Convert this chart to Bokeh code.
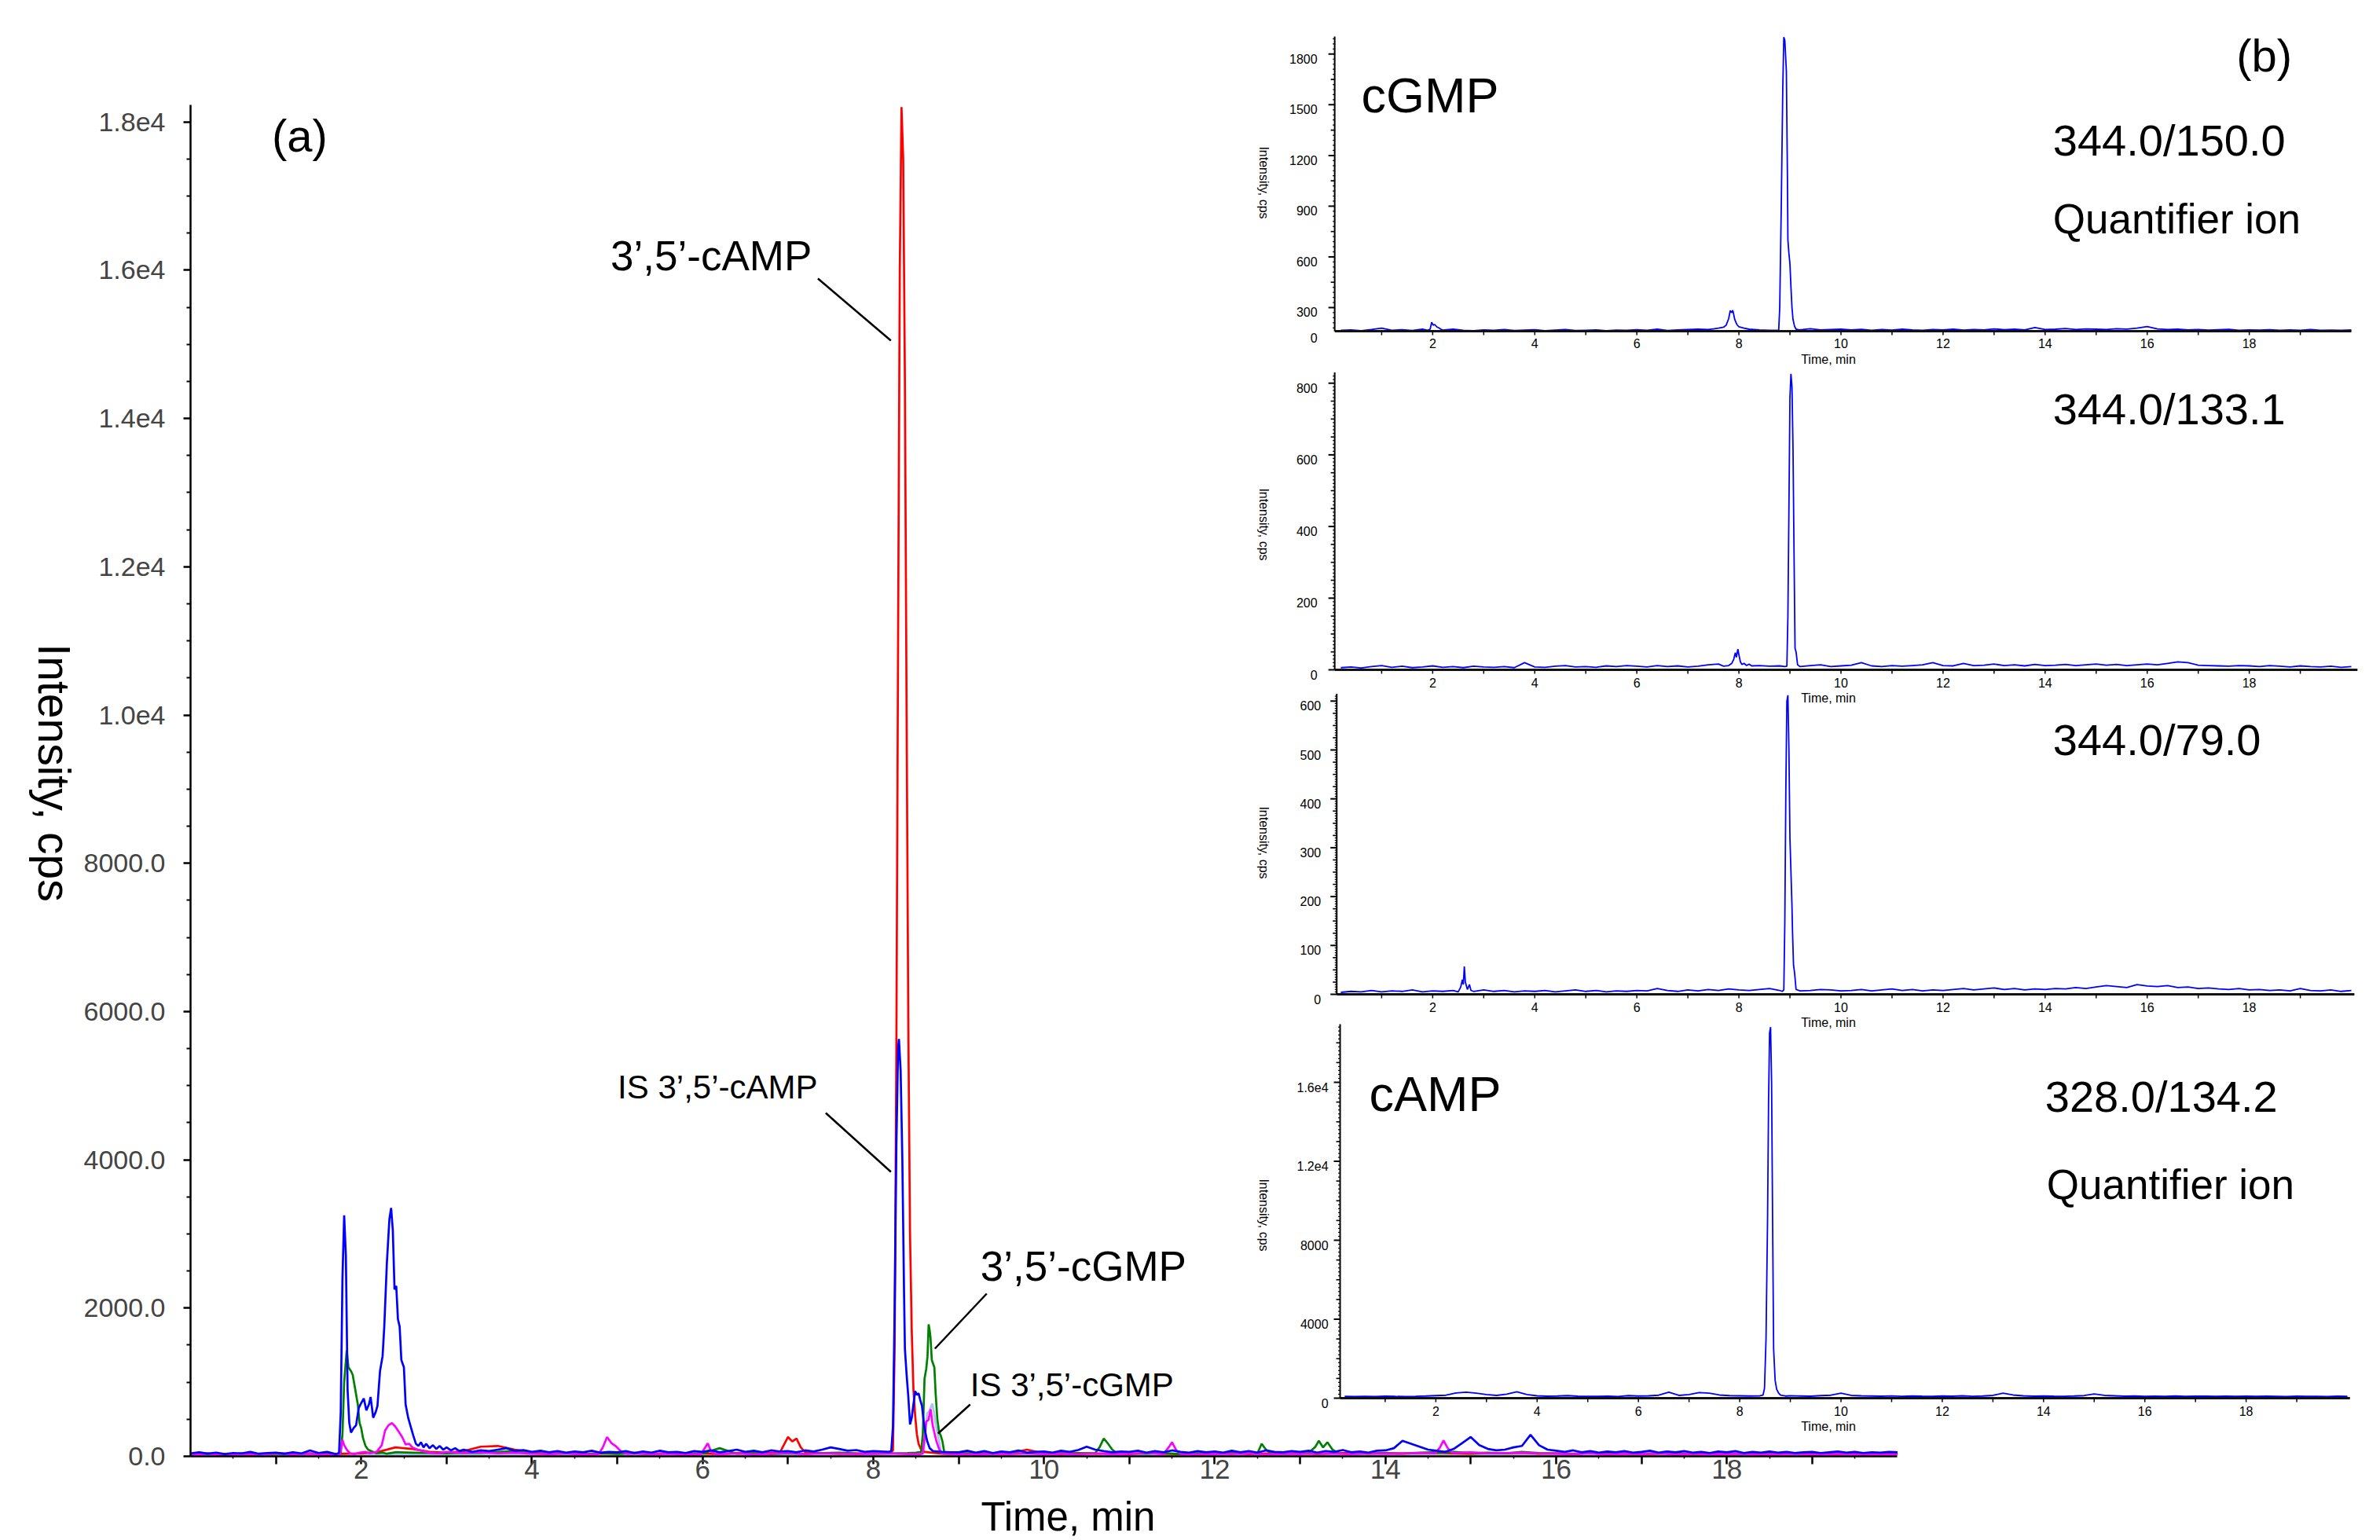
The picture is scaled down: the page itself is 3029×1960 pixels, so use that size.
import numpy as np
from bokeh.plotting import figure
from bokeh.layouts import row, column
from bokeh.models import Range1d, FixedTicker
from bokeh.core.properties import value
from bokeh.embed import file_html
from bokeh.resources import INLINE

FONT = "Liberation Sans"

# ===================== DATA =====================
# sampling grids (minutes)
grid_fine = [round(0.1 * i, 1) for i in range(201)]
grid_main = [round(0.2 * i, 1) for i in range(101)]
grid_inset = [round(0.2 * i, 1) for i in range(1, 101)]

# ---- panel (a): overlaid MRM traces, intensity in cps ----
blue_base = [40, 55, 35, 50, 30, 45, 40, 60, 35, 45,
             50, 35, 55, 40, 80, 45, 60, 40, 50, 45,
             60, 60, 60, 60, 60, 60, 60, 60, 60, 60,
             120, 90, 110, 80, 95, 70, 90, 110, 75, 85,
             60, 75, 55, 70, 50, 65, 55, 75, 50, 60,
             55, 70, 45, 65, 50, 75, 55, 60, 45, 70,
             60, 80, 55, 70, 90, 60, 75, 55, 80, 65,
             70, 55, 80, 65, 90, 120, 100, 75, 85, 60,
             70, 65, 60, 60, 60, 60, 60, 75, 60, 55,
             55, 75, 50, 70, 45, 65, 55, 80, 50, 60,
             65, 50, 75, 60, 85, 130, 90, 70, 55, 65,
             60, 75, 50, 70, 55, 80, 60, 50, 70, 55,
             65, 50, 75, 55, 70, 50, 80, 60, 55, 70,
             60, 75, 50, 70, 60, 85, 55, 65, 50, 75,
             80, 110, 210, 170, 130, 90, 75, 60, 100, 180,
             260, 150, 100, 80, 90, 120, 140, 290, 150, 90,
             75, 60, 80, 55, 70, 50, 65, 55, 70, 50,
             60, 75, 50, 65, 55, 70, 50, 60, 45, 65,
             55, 70, 45, 60, 50, 65, 50, 60, 45, 55,
             60, 45, 55, 65, 50, 60, 45, 55, 50, 60,
             55]
blue_seg_early = [(1.70, 30), (1.74, 45), (1.76, 600), (1.78, 2400), (1.80, 3250), (1.82, 2700),
                  (1.84, 900), (1.86, 450), (1.88, 320), (1.91, 380), (1.94, 420), (1.97, 650),
                  (2.00, 720), (2.03, 780), (2.06, 620), (2.09, 700), (2.11, 800), (2.14, 520),
                  (2.17, 600), (2.19, 680), (2.22, 1150), (2.25, 1350), (2.27, 1750), (2.30, 2600),
                  (2.33, 3200), (2.35, 3350), (2.37, 3050), (2.39, 2250), (2.41, 2300), (2.43, 1850),
                  (2.45, 1750), (2.47, 1300), (2.50, 1200), (2.52, 700), (2.55, 520), (2.58, 400),
                  (2.61, 280), (2.64, 170), (2.67, 140), (2.70, 190), (2.73, 120), (2.76, 170),
                  (2.80, 110), (2.84, 150), (2.88, 100), (2.92, 140), (2.96, 90), (3.00, 120),
                  (3.05, 80), (3.10, 110), (3.15, 70), (3.20, 90), (3.30, 60), (3.40, 80)]
blue_seg_peak = [(8.18, 60), (8.21, 70), (8.23, 400), (8.25, 2000), (8.27, 4200), (8.29, 5500),
                 (8.30, 5630), (8.32, 5200), (8.34, 4000), (8.36, 2200), (8.37, 1450), (8.39, 1100),
                 (8.41, 800), (8.43, 430), (8.45, 520), (8.47, 700), (8.49, 880), (8.51, 830),
                 (8.53, 850), (8.55, 760), (8.57, 680), (8.59, 470), (8.61, 320), (8.63, 210),
                 (8.66, 110), (8.70, 70)]

red_base = [30, 40, 25, 35, 30, 45, 30, 40, 25, 35,
            40, 60, 120, 100, 60, 50, 70, 130, 140, 90,
            50, 35, 45, 30, 40, 35, 50, 30, 45, 35,
            40, 30, 45, 35, 50, 230, 100, 45, 35, 40,
            40, 35, 40, 40, 35, 30, 45, 35, 40, 90,
            40, 30, 45, 35, 40, 30, 45, 35, 30, 40,
            35, 45, 30, 40, 35, 45, 30, 40, 50, 35,
            40, 35, 45, 50, 40, 35, 45, 40, 50, 35,
            40, 30, 45, 35, 40, 30, 35, 45, 30, 40,
            35, 40, 30, 45, 35, 40, 30, 35, 40, 30,
            35]
red_seg_7 = [(6.90, 40), (6.95, 150), (7.00, 260), (7.05, 200), (7.10, 240), (7.15, 120),
             (7.20, 60), (7.25, 45)]
red_seg_peak = [(8.20, 40), (8.23, 80), (8.25, 1500), (8.27, 5500), (8.29, 11000), (8.31, 16000),
                (8.33, 18200), (8.35, 17500), (8.37, 14500), (8.39, 10000), (8.41, 5800),
                (8.43, 3000), (8.45, 1700), (8.47, 900), (8.49, 550), (8.51, 300), (8.53, 170),
                (8.56, 90), (8.60, 60)]

green_base = [30, 35, 25, 40, 30, 35, 25, 40, 30, 35,
              30, 40, 55, 50, 45, 40, 50, 45, 60, 70,
              45, 35, 40, 30, 45, 35, 40, 30, 45, 35,
              40, 110, 35, 45, 30, 40, 35, 45, 50, 40,
              35, 40, 45, 40, 50, 45, 40, 35, 45, 40,
              35, 45, 40, 50, 60, 40, 35, 45, 30, 40,
              35, 45, 40, 50, 35, 40, 45, 50, 35, 40,
              45, 40, 50, 55, 60, 45, 50, 40, 60, 45,
              40, 35, 45, 30, 40, 35, 45, 30, 40, 35,
              40, 30, 45, 35, 40, 30, 35, 40, 30, 35,
              40]
green_seg_early = [(1.70, 30), (1.76, 40), (1.78, 300), (1.80, 1000), (1.83, 1430), (1.85, 1200),
                   (1.88, 1150), (1.90, 1100), (1.93, 900), (1.96, 700), (1.98, 450), (2.00, 380),
                   (2.02, 250), (2.05, 140), (2.08, 90), (2.12, 70), (2.18, 40), (2.25, 50),
                   (2.30, 35)]
green_seg_peak = [(8.50, 50), (8.56, 60), (8.58, 300), (8.60, 1050), (8.62, 1180), (8.635, 1350),
                  (8.648, 1780), (8.66, 1700), (8.67, 1600), (8.685, 1300), (8.70, 1250),
                  (8.715, 1200), (8.73, 850), (8.75, 500), (8.77, 330), (8.79, 280), (8.81, 200),
                  (8.83, 60), (8.87, 40)]
green_seg_10 = [(10.60, 45), (10.65, 120), (10.70, 240), (10.75, 170), (10.80, 90), (10.85, 45)]
green_seg_12 = [(12.50, 40), (12.55, 170), (12.60, 90), (12.65, 45)]
green_seg_13 = [(13.10, 45), (13.18, 130), (13.22, 210), (13.27, 120), (13.32, 190), (13.38, 90),
                (13.45, 40)]

magenta_base = [25, 35, 20, 30, 25, 40, 25, 35, 20, 30,
                40, 45, 420, 250, 100, 60, 45, 55, 40, 50,
                35, 30, 40, 25, 35, 40, 40, 30, 35, 25,
                35, 30, 40, 25, 35, 45, 30, 40, 35, 30,
                35, 40, 30, 40, 35, 30, 25, 35, 30, 40,
                30, 35, 25, 40, 30, 35, 45, 30, 35, 25,
                35, 30, 40, 25, 35, 30, 40, 35, 30, 40,
                35, 40, 45, 50, 45, 55, 40, 45, 50, 40,
                35, 30, 40, 25, 35, 30, 40, 25, 35, 30,
                30, 35, 25, 30, 35, 25, 30, 35, 25, 30,
                30]
magenta_seg_early = [(1.75, 20), (1.78, 220), (1.80, 150), (1.83, 90), (1.87, 40), (1.92, 30),
                     (1.98, 50), (2.05, 60), (2.10, 40), (2.18, 60), (2.24, 150), (2.28, 350),
                     (2.32, 420), (2.36, 450), (2.40, 400), (2.44, 330), (2.48, 260), (2.52, 160),
                     (2.56, 170), (2.60, 120), (2.66, 90), (2.72, 70), (2.80, 50), (2.90, 40)]
magenta_seg_5 = [(4.78, 30), (4.83, 120), (4.88, 260), (4.93, 180), (4.98, 140), (5.05, 60),
                 (5.12, 35)]
magenta_seg_6 = [(5.98, 30), (6.03, 120), (6.06, 175), (6.10, 60), (6.15, 35)]
magenta_seg_peak = [(8.55, 30), (8.58, 40), (8.60, 250), (8.62, 470), (8.645, 490), (8.672, 635),
                    (8.695, 420), (8.715, 320), (8.74, 200), (8.77, 100), (8.80, 40)]
magenta_seg_11 = [(11.40, 30), (11.46, 120), (11.50, 190), (11.55, 80), (11.60, 35)]
magenta_seg_14 = [(14.58, 40), (14.64, 120), (14.68, 215), (14.73, 110), (14.78, 50)]

lblue_base = [20, 22, 18, 21, 19, 23, 20, 18, 22, 20,
              25, 28, 30, 26, 24, 22, 25, 23, 21, 24,
              20, 22, 19, 21, 23, 20, 18, 22, 21, 19,
              21, 23, 20, 22, 19, 24, 21, 20, 22, 23,
              22, 20, 24, 21, 23, 20, 22, 19, 21, 20,
              22, 20, 23, 21, 19, 22, 20, 23, 21, 20,
              21, 23, 20, 22, 24, 21, 23, 20, 22, 21,
              23, 25, 22, 24, 26, 23, 25, 22, 24, 23,
              21, 20, 22, 19, 21, 20, 22, 19, 21, 20,
              20, 21, 19, 22, 20, 21, 19, 20, 22, 20,
              21]
lblue_seg_peak = [(8.55, 20), (8.59, 40), (8.61, 300), (8.63, 580), (8.65, 600), (8.67, 650),
                  (8.69, 710), (8.71, 600), (8.73, 430), (8.75, 320), (8.77, 210), (8.79, 80),
                  (8.82, 30)]

main_ytick_vals = [0, 2000, 4000, 6000, 8000, 10000, 12000, 14000, 16000, 18000]
main_ytick_text = ["0.0", "2000.0", "4000.0", "6000.0", "8000.0",
                   "1.0e4", "1.2e4", "1.4e4", "1.6e4", "1.8e4"]
main_xtick_vals = [2, 4, 6, 8, 10, 12, 14, 16, 18]
main_xtick_text = ["2", "4", "6", "8", "10", "12", "14", "16", "18"]

# ---- panel (b): single-transition chromatograms ----
i1_base = [165, 168, 163, 170, 178, 166, 169, 164, 172, 175,
           168, 172, 166, 163, 168, 165, 170, 164, 167, 169,
           163, 167, 170, 164, 166, 168, 163, 167, 165, 169,
           166, 172, 164, 168, 170, 172, 175, 180, 240, 190,
           170, 168, 166, 168, 170, 172, 175, 168, 170, 172,
           168, 171, 166, 170, 167, 172, 168, 166, 170, 168,
           172, 167, 170, 168, 174, 169, 172, 168, 182, 170,
           172, 176, 170, 174, 172, 170, 175, 173, 178, 188,
           174, 170, 172, 168, 170, 167, 169, 171, 166, 168,
           167, 169, 165, 168, 166, 170, 165, 167, 166, 168]
i1_seg_2 = [(1.90, 166), (1.95, 172), (1.98, 213), (2.01, 196), (2.04, 200), (2.08, 186),
            (2.12, 180), (2.16, 172), (2.20, 167)]
i1_seg_8 = [(7.40, 170), (7.50, 174), (7.60, 178), (7.70, 184), (7.75, 196), (7.80, 235),
            (7.83, 282), (7.86, 270), (7.88, 284), (7.92, 228), (7.96, 200), (8.00, 186),
            (8.10, 178), (8.20, 172), (8.30, 170)]
i1_seg_peak = [(8.70, 166), (8.78, 167), (8.80, 300), (8.83, 900), (8.86, 1600), (8.88, 1900),
               (8.90, 1880), (8.93, 1700), (8.95, 1100), (8.96, 700), (8.98, 620), (9.00, 560),
               (9.02, 420), (9.04, 300), (9.06, 230), (9.09, 190), (9.12, 172), (9.18, 168),
               (9.25, 170)]

i2_base = [6, 8, 5, 9, 12, 7, 10, 6, 8, 11,
           7, 9, 6, 10, 8, 7, 9, 6, 20, 8,
           7, 10, 12, 8, 9, 7, 11, 9, 12, 10,
           8, 12, 9, 11, 8, 10, 14, 16, 25, 45,
           15, 12, 10, 11, 9, 10, 12, 14, 9, 11,
           13, 20, 11, 9, 12, 10, 12, 14, 20, 12,
           11, 18, 12, 13, 16, 12, 14, 11, 15, 12,
           13, 15, 12, 14, 16, 13, 15, 12, 14, 16,
           14, 18, 22, 20, 13, 12, 11, 10, 12, 11,
           9, 12, 10, 8, 11, 9, 8, 10, 7, 9]
i2_seg_8 = [(7.70, 10), (7.80, 12), (7.86, 18), (7.90, 30), (7.93, 48), (7.95, 35), (7.98, 58),
            (8.00, 42), (8.03, 22), (8.06, 15), (8.10, 18), (8.15, 12), (8.20, 16), (8.25, 11)]
i2_seg_peak = [(8.90, 9), (8.94, 10), (8.96, 150), (8.98, 450), (9.00, 760), (9.02, 826),
               (9.04, 790), (9.06, 620), (9.08, 330), (9.10, 60), (9.12, 50), (9.15, 14),
               (9.20, 9)]

i3_base = [4, 6, 5, 8, 5, 7, 6, 9, 5, 7,
           6, 8, 10, 7, 9, 6, 8, 5, 7, 6,
           8, 5, 7, 9, 6, 8, 5, 7, 6, 8,
           7, 12, 8, 6, 9, 7, 10, 8, 11, 9,
           8, 10, 12, 8, 9, 12, 8, 10, 9, 7,
           8, 10, 7, 9, 11, 8, 10, 7, 9, 8,
           10, 12, 9, 11, 13, 10, 12, 9, 11, 10,
           12, 11, 14, 12, 15, 18, 16, 14, 20, 17,
           16, 18, 14, 15, 12, 13, 11, 10, 12, 9,
           10, 8, 9, 7, 12, 8, 7, 9, 6, 8]
i3_seg_2 = [(2.50, 5), (2.55, 15), (2.58, 30), (2.60, 20), (2.62, 57), (2.64, 25), (2.68, 10),
            (2.72, 20), (2.75, 8), (2.80, 6)]
i3_seg_peak = [(8.85, 6), (8.88, 9), (8.90, 150), (8.92, 420), (8.94, 600), (8.96, 612),
               (8.98, 500), (9.00, 320), (9.02, 250), (9.04, 180), (9.05, 130), (9.07, 60),
               (9.09, 45), (9.12, 10), (9.20, 7)]

i4_base = [90, 80, 95, 85, 100, 90, 85, 95, 110, 130,
           150, 260, 300, 250, 180, 140, 200, 320, 180, 120,
           100, 110, 130, 100, 95, 90, 100, 85, 130, 110,
           120, 150, 300, 140, 180, 280, 250, 160, 130, 120,
           110, 120, 110, 130, 120, 110, 100, 130, 150, 250,
           140, 120, 110, 100, 115, 95, 110, 100, 95, 110,
           100, 120, 95, 110, 140, 250, 160, 120, 100, 110,
           100, 95, 110, 130, 210, 140, 120, 100, 110, 95,
           100, 90, 110, 95, 100, 105, 90, 100, 95, 105,
           90, 100, 95, 85, 100, 90, 95, 85, 100, 90]
i4_seg_peak = [(8.40, 120), (8.46, 150), (8.49, 500), (8.52, 3000), (8.55, 9000), (8.57, 15000),
               (8.59, 18500), (8.61, 18800), (8.63, 16000), (8.65, 9000), (8.67, 2500),
               (8.70, 900), (8.73, 450), (8.77, 250), (8.81, 150), (8.90, 110)]

i1_yticks = [300, 600, 900, 1200, 1500, 1800]
i1_ylabels = ["300", "600", "900", "1200", "1500", "1800"]
i2_yticks = [0, 200, 400, 600, 800]
i2_ylabels = ["0", "200", "400", "600", "800"]
i3_yticks = [0, 100, 200, 300, 400, 500, 600]
i3_ylabels = ["0", "100", "200", "300", "400", "500", "600"]
i4_yticks = [0, 4000, 8000, 12000, 16000]
i4_ylabels = ["0", "4000", "8000", "1.2e4", "1.6e4"]
inset_xticks = [2, 4, 6, 8, 10, 12, 14, 16, 18]
inset_xlabels = ["2", "4", "6", "8", "10", "12", "14", "16", "18"]


def merge(grid, base, segments):
    wins = [(s[0][0], s[-1][0]) for s in segments]
    pts = [(t, v) for t, v in zip(grid, base) if not any(a <= t <= b for a, b in wins)]
    for s in segments:
        pts.extend(s)
    pts.sort()
    return [q[0] for q in pts], [q[1] for q in pts]


# ===================== LAYOUT (page pixels) =====================
PAGE_W, PAGE_H = 3029, 1960
LEFT_W = 103            # strip holding the main y title
MAIN_H = 1900           # main figure height; bottom strip holds x title
AX_L = 240.0            # page x of main y axis (t = 0)
AX_B = 1853.0           # page y of main x axis (0 cps)
XPX = 108.7             # px per minute
YPX = 0.09435           # px per cps
FR_R = PAGE_W
FR_T = 0


def to_main(px, py):
    return (px - AX_L) / XPX, (AX_B - py) / YPX


def strip(w, h):
    f = figure(width=w, height=h, x_range=Range1d(0, w), y_range=Range1d(0, h),
               output_backend="svg", toolbar_location=None, tools="",
               x_axis_location=None, y_axis_location=None,
               min_border_left=0, min_border_right=0, min_border_top=0, min_border_bottom=0)
    f.outline_line_color = None
    f.background_fill_color = "white"
    f.border_fill_color = "white"
    f.grid.grid_line_color = None
    f.grid.visible = False
    return f


p = figure(width=PAGE_W - LEFT_W, height=MAIN_H,
           x_range=Range1d(0, (FR_R - AX_L) / XPX),
           y_range=Range1d(0, (AX_B - FR_T) / YPX),
           output_backend="svg", toolbar_location=None, tools="",
           min_border_left=int(AX_L - LEFT_W), min_border_right=0, min_border_top=0,
           min_border_bottom=int(MAIN_H - AX_B))
p.outline_line_color = None
p.xgrid.grid_line_color = None
p.ygrid.grid_line_color = None
p.background_fill_color = "white"
p.border_fill_color = "white"

# main axes
ya = p.yaxis[0]
ya.ticker = FixedTicker(ticks=main_ytick_vals,
                        minor_ticks=[v for v in range(500, 18001, 500) if v % 2000])
ya.bounds = (0, 18230)
ya.major_label_overrides = {v: s for v, s in zip(main_ytick_vals, main_ytick_text)}
ya.major_label_text_font = FONT
ya.major_label_text_font_size = "34px"
ya.major_label_standoff = 23
ya.major_tick_out, ya.major_tick_in = 9, 0
ya.minor_tick_out, ya.minor_tick_in = 5, 0
ya.axis_line_width = 2.5
ya.major_tick_line_width = 2.5
ya.minor_tick_line_width = 2

xa = p.xaxis[0]
xa.ticker = FixedTicker(ticks=list(range(1, 20)), minor_ticks=[i + 0.5 for i in range(20)])
xa.bounds = (0, 20)
xa.major_label_overrides = {i: (main_xtick_text[main_xtick_vals.index(i)]
                                if i in main_xtick_vals else "") for i in range(1, 20)}
xa.major_label_text_font = FONT
xa.major_label_text_font_size = "35px"
xa.major_label_standoff = -6
xa.major_tick_out, xa.major_tick_in = 10, 0
xa.minor_tick_out, xa.minor_tick_in = 3, 0
xa.axis_line_width = 2.5
xa.major_tick_line_width = 2.5
xa.minor_tick_line_width = 1.5

# axis titles in side strips
left = strip(LEFT_W, MAIN_H)
left.text(x=[68], y=[MAIN_H - 1008], text=["Intensity, cps"], angle=-np.pi / 2,
          text_align="center", text_baseline="middle", text_font=value(FONT),
          text_font_size="57px", text_color="black")
BOT_H = PAGE_H - MAIN_H
bottom = strip(PAGE_W, BOT_H)
bottom.text(x=[1359], y=[BOT_H / 2], text=["Time, min"],
            text_align="center", text_baseline="middle", text_font=value(FONT),
            text_font_size="51px", text_color="black")

# main traces
traces = [
    (grid_main, lblue_base, [lblue_seg_peak], "#A9C6E8"),
    (grid_main, red_base, [red_seg_7, red_seg_peak], "#FF0000"),
    (grid_main, green_base, [green_seg_early, green_seg_peak, green_seg_10, green_seg_12,
                             green_seg_13], "#008000"),
    (grid_main, magenta_base, [magenta_seg_early, magenta_seg_5, magenta_seg_6,
                               magenta_seg_peak, magenta_seg_11, magenta_seg_14], "#FF00FF"),
    (grid_fine, blue_base, [blue_seg_early, blue_seg_peak], "#0000FF"),
]
for g, b, segs, col in traces:
    tt, vv = merge(g, b, segs)
    p.line(tt, vv, line_color=col, line_width=2.7)

# callout lines and annotations of panel (a)
callouts = [((1039, 354), (1132, 433)), ((1049, 1416), (1132, 1491)),
            ((1254, 1646), (1188, 1716)), ((1233, 1787), (1192, 1824))]
for (a, b) in callouts:
    x0, y0 = to_main(*a)
    x1, y1 = to_main(*b)
    p.segment(x0=[x0], y0=[y0], x1=[x1], y1=[y1], line_color="black", line_width=2.5)

texts = [("(a)", 379, 172, "58px", "center"),
         ("3\u2019,5\u2019-cAMP", 775, 325, "53px", "left"),
         ("IS 3\u2019,5\u2019-cAMP", 784, 1383, "42px", "left"),
         ("3\u2019,5\u2019-cGMP", 1246, 1611, "53px", "left"),
         ("IS 3\u2019,5\u2019-cGMP", 1233, 1762, "42px", "left"),
         ("(b)", 2881, 70, "58px", "center"),
         ("cGMP", 1731, 120, "63px", "left"),
         ("344.0/150.0", 2612, 178, "56px", "left"),
         ("Quantifier ion", 2612, 278, "53px", "left"),
         ("344.0/133.1", 2612, 520, "56px", "left"),
         ("344.0/79.0", 2612, 941, "56px", "left"),
         ("cAMP", 1741, 1391, "63px", "left"),
         ("328.0/134.2", 2602, 1395, "56px", "left"),
         ("Quantifier ion", 2604, 1507, "53px", "left")]
for s, px, py, fs, al in texts:
    x, y = to_main(px, py)
    p.text(x=[x], y=[y], text=[s], text_font=value(FONT), text_font_size=fs,
           text_align=al, text_baseline="middle", text_color="black")

# ===================== insets (b) =====================
insets = [
    dict(base=i1_base, segs=[i1_seg_2, i1_seg_8, i1_seg_peak], yt=i1_yticks, yl=i1_ylabels,
         x0=1692.0, sx=65.0, t_lo=0.08, t_hi=20.0, y0=455.5, sy=0.2151, v_lo=160.4, v_hi=1904,
         minor=150, tiny=30, lab_dx=-22, ylab_py=232, zero_label=True),
    dict(base=i2_base, segs=[i2_seg_8, i2_seg_peak], yt=i2_yticks, yl=i2_ylabels,
         x0=1692.0, sx=65.0, t_lo=0.08, t_hi=20.12, y0=852.0, sy=0.456, v_lo=0, v_hi=830,
         minor=50, tiny=10, lab_dx=-22, ylab_py=667, zero_label=False),
    dict(base=i3_base, segs=[i3_seg_2, i3_seg_peak], yt=i3_yticks, yl=i3_ylabels,
         x0=1692.0, sx=65.0, t_lo=0.12, t_hi=20.06, y0=1265.0, sy=0.622, v_lo=0, v_hi=615,
         minor=25, tiny=5, lab_dx=-20, ylab_py=1072, zero_label=False),
    dict(base=i4_base, segs=[i4_seg_peak], yt=i4_yticks, yl=i4_ylabels,
         x0=1697.0, sx=64.5, t_lo=0.11, t_hi=20.05, y0=1779.0, sy=0.025125, v_lo=0, v_hi=18950,
         minor=1000, tiny=200, lab_dx=-15, ylab_py=1546, zero_label=False),
]
FR_B = AX_B
for k, g in enumerate(insets):
    xn, yn = "ix%d" % k, "iy%d" % k
    p.extra_x_ranges[xn] = Range1d((AX_L - g["x0"]) / g["sx"], (FR_R - g["x0"]) / g["sx"])
    p.extra_y_ranges[yn] = Range1d((g["y0"] - FR_B) / g["sy"], (g["y0"] - FR_T) / g["sy"])
    kw = dict(x_range_name=xn, y_range_name=yn)
    tl, th, vl, vh = g["t_lo"], g["t_hi"], g["v_lo"], g["v_hi"]
    dt = 1.0 / g["sx"]      # minutes per pixel
    dv = 1.0 / g["sy"]      # cps per pixel

    tt, vv = merge(grid_inset, g["base"], g["segs"])
    p.line(tt, vv, line_color="#0000FF", line_width=1.8, **kw)

    # axis lines
    p.segment(x0=[tl], y0=[vl], x1=[th], y1=[vl], line_color="#111111", line_width=3, **kw)
    p.segment(x0=[tl], y0=[vl], x1=[tl], y1=[vh], line_color="black", line_width=2, **kw)

    # y ticks (major / minor / tiny)
    majors = g["yt"]
    step_m, step_t = g["minor"], g["tiny"]
    mins = [float(v) for v in np.arange(0, vh, step_m)
            if v > vl and all(abs(v - m) > 1e-6 for m in majors)]
    tins = [float(v) for v in np.arange(0, vh, step_t)
            if v > vl and abs(v / step_m - round(v / step_m)) > 1e-6]
    for vals, ln, lw in ((majors, 8, 2), (mins, 5, 1.6), (tins, 2.5, 1.2)):
        vals = [v for v in vals if v >= vl]
        p.segment(x0=[tl - ln * dt] * len(vals), y0=vals, x1=[tl] * len(vals), y1=vals,
                  line_color="black", line_width=lw, **kw)
    p.text(x=[tl] * len(majors), y=majors, text=g["yl"], x_offset=g["lab_dx"], y_offset=6,
           text_align="right", text_baseline="middle", text_font=value(FONT),
           text_font_size="16px", text_color="black", **kw)
    if g["zero_label"]:
        p.text(x=[tl], y=[vl], text=["0"], x_offset=g["lab_dx"], y_offset=9,
               text_align="right", text_baseline="middle", text_font=value(FONT),
               text_font_size="16px", text_color="black", **kw)

    # x ticks and labels
    xt_all = list(range(1, 20))
    p.segment(x0=xt_all, y0=[vl] * 19, x1=xt_all, y1=[vl - 5 * dv] * 19,
              line_color="black", line_width=1.5, **kw)
    p.text(x=inset_xticks, y=[vl] * len(inset_xticks), text=inset_xlabels, y_offset=16,
           text_align="center", text_baseline="middle", text_font=value(FONT),
           text_font_size="16px", text_color="black", **kw)
    p.text(x=[(2326 - g["x0"]) / g["sx"]], y=[vl], text=["Time, min"], y_offset=36,
           text_align="center", text_baseline="middle", text_font=value(FONT),
           text_font_size="16px", text_color="black", **kw)
    p.text(x=[(1607 - g["x0"]) / g["sx"]], y=[(g["y0"] - g["ylab_py"]) / g["sy"]],
           text=["Intensity, cps"], angle=-np.pi / 2, text_align="center",
           text_baseline="middle", text_font=value(FONT), text_font_size="16px",
           text_color="black", **kw)

layout = column(row(left, p, spacing=0), bottom, spacing=0)
open("out.html", "w").write(file_html(layout, INLINE))
